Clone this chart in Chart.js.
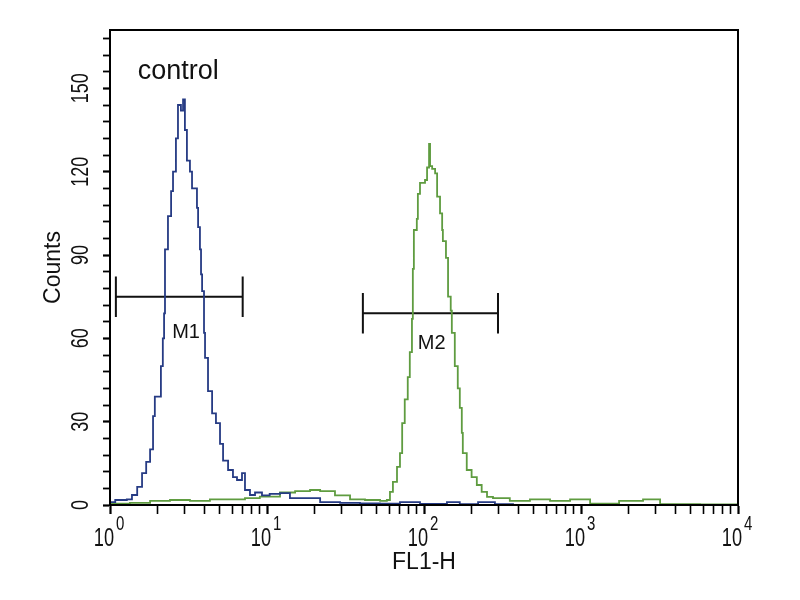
<!DOCTYPE html>
<html>
<head>
<meta charset="utf-8">
<script src="https://cdn.jsdelivr.net/npm/chart.js@4.4.1/dist/chart.umd.min.js"></script>
<style>
html,body{margin:0;padding:0;background:#fff;}
#wrap{width:800px;height:600px;}
</style>
</head>
<body>
<div id="wrap"><canvas id="c" width="800" height="600"></canvas></div>
<script>
// ---- data ----
const controlFL = [1.00,1.08,1.28,1.38,1.49,1.60,1.70,1.80,1.88,1.93,2.11,2.17,2.21,2.24,2.34,2.45,2.52,2.63,2.71,2.83,2.92,3.00,3.09,3.23,3.33,3.58,3.64,3.74,3.80,3.86,3.97,4.03,4.21,4.47,4.73,5.02,5.25,5.65,6.07,6.44,6.93,7.24,7.79,8.39,9.29,10.4,12.1,14.0,17.5,21.8,29.2,39.1,52.5,70.3,94.3,140,169,221,283,369];
const controlCounts = [1,1.8,2,3.6,6.5,11.5,15.5,20,32,39,50,60,69,92,104,113,120,132,144,142,146,135,124,120,114,107,100,92,83,77,62,53,41,33,29.5,22,16,12.6,10,9,11.5,5.4,3.6,4.5,3.5,4,4.3,2.5,2.5,1,0.8,0.6,0.5,1,0.4,1,0.3,1,0.3,0.2];

const sampleFL = [1.00,1.34,1.80,2.41,3.23,4.33,5.81,7.24,9.0,12.1,15.1,18.8,21.8,27.1,33.8,42.1,52.5,58.0,60.7,63.4,67.3,70.3,72.6,75.4,78.8,81.2,83.8,84.9,86.2,90.0,91.4,94.3,101.5,104.6,107.7,109.3,112.7,117.7,121.2,126.5,130.5,131.9,138.0,142.3,148.0,150.4,157.1,164.1,169.1,174.1,176.7,187.2,201,217,233,252,275,304,352,473,635,852,1143,1748,2484,3190,5740,10000];
const sampleCounts = [0.5,0.8,1.5,1.8,1.5,2,2,2.5,3,4.5,5,5.4,5,3.5,2,1.8,1.5,1.8,4.7,8.3,13.7,18.7,29.5,38,46,55,67,85,99,103,112,116,117,121.5,130,122,121,119.4,111,105,99,95,89,75,70,62,50,42,35,26,18.7,12.6,10,7.2,4.7,2.9,2.5,2.5,1.5,2,1.5,2,0.5,1.5,2,0.3,0.2,0.2];

// markers: [start, end], level, half-height of end bars (counts)
const m1Range = [1.09, 7.0];
const m1Level = 75;
const m2Range = [40.8, 296];
const m2Level = 69;
const markerHalf = 7.3;
const markerNames = ['M1', 'M2'];
const markerLabelPos = [[3.05, 62], [112, 58]];

const controlLabel = 'control';
const controlLabelPos = [2.72, 156];

const xDecades = [0, 1, 2, 3, 4];
const yTickLabels = [0, 30, 60, 90, 120, 150];
const yMinorStep = 6;
const yMax = 171;
const xTitle = 'FL1-H';
const yTitle = 'Counts';

// ---- build library structures ----
const toPts = (xs, ys) => xs.map((x, i) => ({x: x, y: ys[i]}));
const markerPts = (r, lvl) => [
  {x: r[0], y: lvl + markerHalf}, {x: r[0], y: lvl - markerHalf}, {x: r[0], y: lvl},
  {x: r[1], y: lvl}, {x: r[1], y: lvl + markerHalf}, {x: r[1], y: lvl - markerHalf}
];

const xTicks = [];
xDecades.forEach((d, i) => {
  for (let m = 1; m <= 9; m++) {
    if (i === xDecades.length - 1 && m > 1) break;
    xTicks.push({value: m * Math.pow(10, d), major: m === 1});
  }
});
const yTicks = [];
for (let v = 0; v <= yMax; v += yMinorStep) yTicks.push({value: v, major: v % 30 === 0});

const FONT = "'Liberation Sans', Arial, sans-serif";

// draw condensed text (horizontal scale sx in the text's own frame)
function txt(ctx, s, x, y, size, sx, align, base, rot) {
  ctx.save();
  ctx.translate(x, y);
  if (rot) ctx.rotate(rot);
  ctx.scale(sx, 1);
  ctx.font = size + 'px ' + FONT;
  ctx.textAlign = align;
  ctx.textBaseline = base;
  ctx.fillText(s, 0, 0);
  ctx.restore();
}

const annot = {
  id: 'annot',
  afterDatasetsDraw(chart) {
    const {ctx, chartArea: a, scales: {x, y}} = chart;
    ctx.save();
    // frame
    ctx.strokeStyle = '#000';
    ctx.lineWidth = 2;
    ctx.strokeRect(a.left, a.top, a.right - a.left, a.bottom - a.top);
    ctx.fillStyle = '#111';
    // x tick labels: 10 with superscript exponent
    xDecades.forEach(d => {
      const px = x.getPixelForValue(Math.pow(10, d));
      txt(ctx, '10', px + 4, 546, 26, 0.7, 'right', 'alphabetic');
      txt(ctx, String(d), px + 6, 530, 20, 0.75, 'left', 'alphabetic');
    });
    // y tick labels (rotated, condensed)
    yTickLabels.forEach(v => {
      txt(ctx, String(v), 81, y.getPixelForValue(v), 24, 0.75, 'center', 'middle', -Math.PI / 2);
    });
    // marker labels
    markerNames.forEach((n, i) => {
      txt(ctx, n, x.getPixelForValue(markerLabelPos[i][0]), y.getPixelForValue(markerLabelPos[i][1]), 20, 1, 'center', 'middle');
    });
    // control label
    txt(ctx, controlLabel, x.getPixelForValue(controlLabelPos[0]), y.getPixelForValue(controlLabelPos[1]), 27, 1, 'center', 'middle');
    ctx.restore();
  }
};

new Chart(document.getElementById('c'), {
  type: 'line',
  data: {
    datasets: [
      {label: 'control', data: toPts(controlFL, controlCounts), borderColor: '#263b84', borderWidth: 1.8, stepped: true, pointRadius: 0, fill: false},
      {label: 'sample', data: toPts(sampleFL, sampleCounts), borderColor: '#5f9c40', borderWidth: 1.8, stepped: true, pointRadius: 0, fill: false},
      {label: 'M1', data: markerPts(m1Range, m1Level), borderColor: '#111', borderWidth: 2, pointRadius: 0, fill: false},
      {label: 'M2', data: markerPts(m2Range, m2Level), borderColor: '#111', borderWidth: 2, pointRadius: 0, fill: false}
    ]
  },
  options: {
    responsive: false,
    animation: false,
    layout: {padding: {left: 0, top: 30, right: 62, bottom: 0}},
    plugins: {legend: {display: false}, tooltip: {enabled: false}},
    scales: {
      x: {
        type: 'logarithmic',
        min: 1, max: 10000,
        afterBuildTicks: s => { s.ticks = xTicks.map(t => ({...t})); },
        afterFit: s => { s.height = 95; },
        grid: {drawOnChartArea: false, drawTicks: true, tickLength: 9, color: '#000', tickWidth: c => (c.tick && c.tick.major ? 2.2 : 1.6)},
        border: {display: true, color: '#000', width: 2},
        ticks: {display: false, autoSkip: false},
        title: {display: true, text: xTitle, color: '#111', font: {family: FONT, size: 23}, padding: {top: 0, bottom: 24}}
      },
      y: {
        type: 'linear',
        min: 0, max: yMax,
        afterBuildTicks: s => { s.ticks = yTicks.map(t => ({...t})); },
        afterFit: s => { s.width = 110; },
        grid: {drawOnChartArea: false, drawTicks: true, tickLength: 7, color: '#000', tickWidth: c => (c.tick && c.tick.major ? 2.2 : 1.8)},
        border: {display: true, color: '#000', width: 2},
        ticks: {display: false},
        title: {display: true, text: yTitle, color: '#111', font: {family: FONT, size: 23}, padding: {top: 40, bottom: 0}}
      }
    }
  },
  plugins: [annot]
});
</script>
</body>
</html>
